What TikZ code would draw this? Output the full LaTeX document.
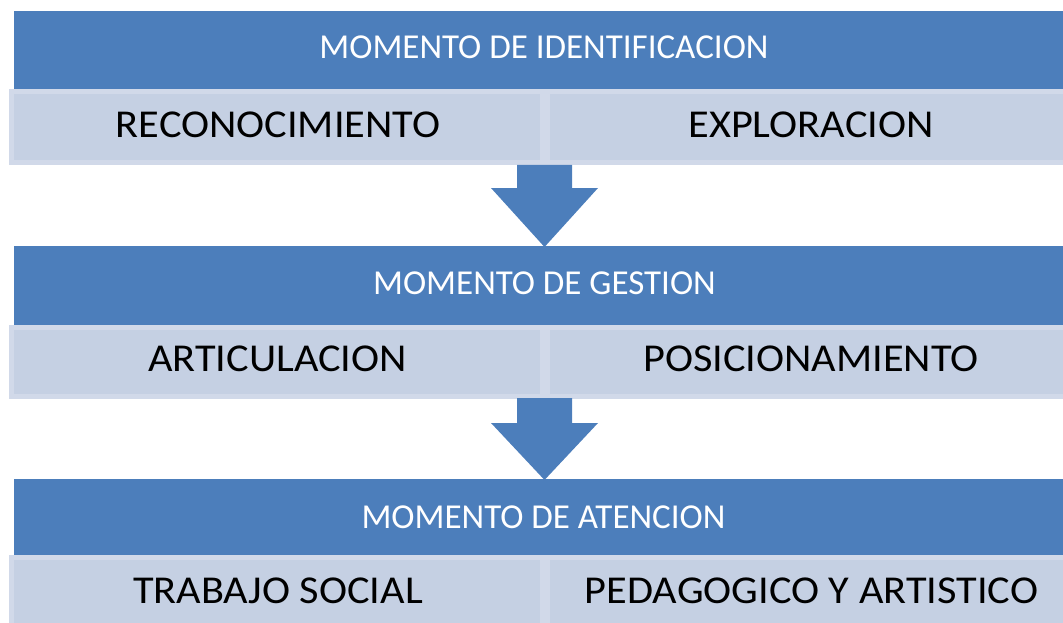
\documentclass[tikz,border=0pt]{standalone}
\usepackage{fontspec}
\usepackage{graphicx}
\setmainfont{Carlito}
\definecolor{hdrblue}{HTML}{4C7EBB}
\definecolor{rowfill}{HTML}{C5D0E3}
\definecolor{rowedge}{HTML}{D1D9E9}
\newcommand{\widetxt}[1]{\scalebox{1.072}[1]{#1}}
\tikzset{
  hdr/.style={rectangle, fill=hdrblue, inner sep=0pt, outer sep=0pt, anchor=north west},
  cell/.style={rectangle, fill=rowfill, draw=rowedge, line width=5pt, inner sep=0pt, outer sep=0pt, anchor=north west},
  hdrtxt/.style={anchor=base, inner sep=0pt, text=white, font=\fontsize{35}{40}\selectfont},
  celltxt/.style={anchor=base, inner sep=0pt, text=black, font=\fontsize{39.5}{45}\selectfont},
  downarrow/.style={fill=hdrblue, draw=none}
}
\begin{document}
\begin{tikzpicture}[x=1pt,y=-1pt]
\useasboundingbox (0,0) rectangle (1063,623);
\clip (0,0) rectangle (1063,623);
% headers
\node[hdr, minimum width=1060pt, minimum height=78pt] (h1) at (14,11) {};
\node[hdr, minimum width=1060pt, minimum height=79pt] (h2) at (14,246) {};
\node[hdr, minimum width=1060pt, minimum height=76pt] (h3) at (14,479) {};
% rows
\node[cell, minimum width=531pt, minimum height=71pt] (c1l) at (11.5,91.5) {};
\node[cell, minimum width=527pt, minimum height=71pt] (c1r) at (547.5,91.5) {};
\node[cell, minimum width=531pt, minimum height=69pt] (c2l) at (11.5,327.5) {};
\node[cell, minimum width=527pt, minimum height=69pt] (c2r) at (547.5,327.5) {};
\node[cell, minimum width=531pt, minimum height=80pt] (c3l) at (11.5,557.5) {};
\node[cell, minimum width=527pt, minimum height=80pt] (c3r) at (547.5,557.5) {};
% arrows
\fill[downarrow] (517,165) -- (572,165) -- (572,188) -- (598,188) -- (544.5,247) -- (491,188) -- (517,188) -- cycle;
\fill[downarrow] (517,398) -- (572,398) -- (572,423) -- (598,423) -- (544.5,480) -- (491,423) -- (517,423) -- cycle;
% texts
\node[hdrtxt] (t1) at (544,59) {MOMENTO DE IDENTIFICACION};
\node[celltxt] (t1l) at (278,138) {\widetxt{RECONOCIMIENTO}};
\node[celltxt] (t1r) at (811,138) {\widetxt{EXPLORACION}};
\node[hdrtxt] (t2) at (544.5,294) {MOMENTO DE GESTION};
\node[celltxt] (t2l) at (277.5,371.5) {\widetxt{ARTICULACION}};
\node[celltxt] (t2r) at (811,371.5) {\widetxt{POSICIONAMIENTO}};
\node[hdrtxt] (t3) at (543.5,528) {MOMENTO DE ATENCION};
\node[celltxt] (t3l) at (278,603) {\widetxt{TRABAJO SOCIAL}};
\node[celltxt] (t3r) at (811.5,603) {\widetxt{PEDAGOGICO Y ARTISTICO}};
\end{tikzpicture}
\end{document}
